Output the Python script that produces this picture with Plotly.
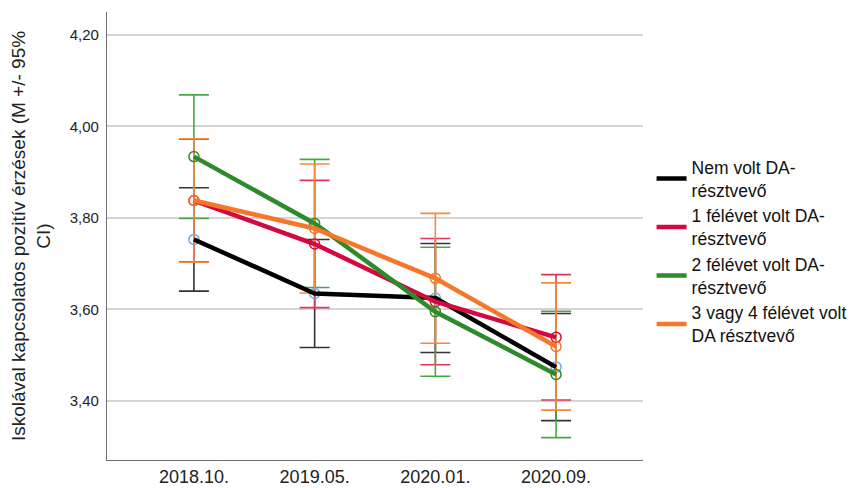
import plotly.graph_objects as go

categories = ["2018.10.", "2019.05.", "2020.01.", "2020.09."]

series_names = [
    "Nem volt DA-<br>résztvevő",
    "1 félévet volt DA-<br>résztvevő",
    "2 félévet volt DA-<br>résztvevő",
    "3 vagy 4 félévet volt<br>DA résztvevő",
]

mean_nem = [3.753, 3.635, 3.625, 3.474]
ci_nem = [0.113, 0.118, 0.119, 0.117]

mean_1 = [3.838, 3.743, 3.617, 3.539]
ci_1 = [0.134, 0.139, 0.138, 0.137]

mean_2 = [3.934, 3.788, 3.595, 3.458]
ci_2 = [0.135, 0.140, 0.141, 0.138]

mean_34 = [3.838, 3.777, 3.668, 3.519]
ci_34 = [0.135, 0.141, 0.142, 0.139]

y_ticks = [3.4, 3.6, 3.8, 4.0, 4.2]

means = [mean_nem, mean_1, mean_2, mean_34]
cis = [ci_nem, ci_1, ci_2, ci_34]
line_colors = ["#000000", "#D3093F", "#2E8B2B", "#F7772A"]
marker_colors = ["#7BA7E0", "#D3093F", "#2E8B2B", "#F7772A"]
err_colors = ["#333333", "#E0365C", "#48A845", "#F58A3D"]

FONT = "Liberation Sans, Arial, sans-serif"

fig = go.Figure()

# error bars first (below everything else)
for m, c, ec in zip(means, cis, err_colors):
    fig.add_trace(go.Scatter(
        x=categories, y=m, mode="markers",
        marker=dict(size=1, opacity=0),
        error_y=dict(type="data", array=c, visible=True, color=ec,
                     thickness=1.6, width=15),
        showlegend=False, hoverinfo="skip",
    ))

# mean markers (open circles)
for m, mc in zip(means, marker_colors):
    fig.add_trace(go.Scatter(
        x=categories, y=m, mode="markers",
        marker=dict(symbol="circle-open", size=10, color=mc,
                    line=dict(width=1.5, color=mc)),
        showlegend=False, hoverinfo="skip",
    ))

# lines
for name, m, lc in zip(series_names, means, line_colors):
    fig.add_trace(go.Scatter(
        x=categories, y=m, mode="lines", name=name,
        line=dict(color=lc, width=4.5),
    ))

# page body adds an 8px offset, so the figure is 8px smaller
fig.update_layout(
    width=848, height=480,
    margin=dict(l=99, r=209, t=4, b=28),
    plot_bgcolor="white", paper_bgcolor="white",
    separators=",.",
    font=dict(family=FONT, color="#222222"),
    showlegend=True,
    legend=dict(
        x=1.016, xanchor="left", y=0.466, yanchor="middle",
        font=dict(family=FONT, size=17.5, color="#111111"),
        bgcolor="rgba(0,0,0,0)", tracegroupgap=0, itemwidth=30,
    ),
    xaxis=dict(
        type="category", range=[-0.72, 3.72], automargin=False,
        showgrid=False, showline=True, linecolor="#6e6e6e", linewidth=1.3,
        ticks="", ticklabelstandoff=0,
        tickfont=dict(family=FONT, size=18, color="#222222"),
        zeroline=False,
    ),
    yaxis=dict(
        range=[3.271, 4.250], automargin=False,
        tickvals=y_ticks, tickformat=".2f",
        showgrid=True, gridcolor="#d4d4d4", gridwidth=1.6,
        showline=True, linecolor="#6e6e6e", linewidth=1.3,
        ticks="", ticklabelstandoff=4,
        tickfont=dict(family=FONT, size=15, color="#222222"),
        zeroline=False,
        title=dict(text="Iskolával kapcsolatos pozitív érzések (M +/- 95%<br>CI)",
                   font=dict(family=FONT, size=19, color="#222222"),
                   standoff=20),
    ),
)

fig.write_html("out.html")
